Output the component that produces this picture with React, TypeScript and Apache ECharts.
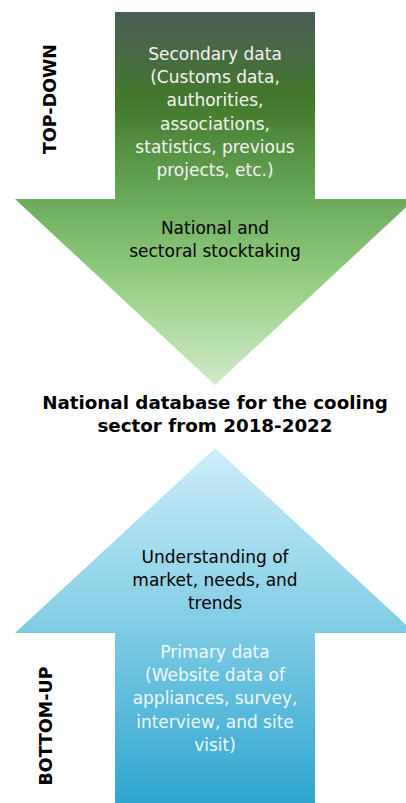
import React, { useEffect, useRef } from "react";
import * as echarts from "echarts";

const topArrowText = ["Secondary data", "(Customs data,", "authorities,", "associations,", "statistics, previous", "projects, etc.)"];
const topHeadText = ["National and", "sectoral stocktaking"];
const titleText = ["National database for the cooling", "sector from 2018-2022"];
const bottomHeadText = ["Understanding of", "market, needs, and", "trends"];
const bottomShaftText = ["Primary data", "(Website data of", "appliances, survey,", "interview, and site", "visit)"];
const sideLabels = ["TOP-DOWN", "BOTTOM-UP"];

const FONT = "DejaVu Sans";

export default function App() {
  const ref = useRef<HTMLDivElement>(null);
  useEffect(() => {
    document.body.style.margin = "0";
    const chart = echarts.init(ref.current!, null, { renderer: "svg" });
    const lh = 23.2;
    const lines = (arr: string[], y0: number, color: string, size: number, weight = "normal") =>
      arr.map((t, i) => ({
        type: "text",
        x: 215,
        y: y0 + i * lh,
        style: { text: t, fill: color, font: `${weight} ${size}px "${FONT}"`, textAlign: "center", textVerticalAlign: "middle" },
      }));
    chart.setOption({
      animation: false,
      backgroundColor: "#ffffff",
      graphic: [
        {
          type: "polygon",
          shape: { points: [[115, 12], [315, 12], [315, 199], [415, 199], [215, 385], [15, 199], [115, 199]] },
          style: {
            fill: new echarts.graphic.LinearGradient(0, 0, 0, 1, [
              { offset: 0, color: "#4b5d56" },
              { offset: 0.24, color: "#42792b" },
              { offset: 0.5, color: "#6aaa5b" },
              { offset: 0.7, color: "#90cb7d" },
              { offset: 1, color: "#d0ebc9" },
            ]),
          },
        },
        {
          type: "polygon",
          shape: { points: [[215, 448], [415, 633], [315, 633], [315, 803], [115, 803], [115, 633], [15, 633]] },
          style: {
            fill: new echarts.graphic.LinearGradient(0, 0, 0, 1, [
              { offset: 0, color: "#cceefa" },
              { offset: 0.45, color: "#89d0e7" },
              { offset: 0.72, color: "#5dbbdb" },
              { offset: 1, color: "#2ea6cf" },
            ]),
          },
        },
        ...lines(topArrowText, 54, "#f4f4f4", 17),
        ...lines(topHeadText, 228, "#000000", 17),
        ...lines(titleText, 402, "#000000", 18.3, "bold"),
        ...lines(bottomHeadText, 557, "#000000", 17),
        ...lines(bottomShaftText, 652, "#f2fafd", 17),
        {
          type: "text",
          x: 50,
          y: 99,
          rotation: Math.PI / 2,
          style: { text: sideLabels[0], fill: "#000", font: `bold 17.5px "${FONT}"`, textAlign: "center", textVerticalAlign: "middle" },
        },
        {
          type: "text",
          x: 46,
          y: 726,
          rotation: Math.PI / 2,
          style: { text: sideLabels[1], fill: "#000", font: `bold 17.5px "${FONT}"`, textAlign: "center", textVerticalAlign: "middle" },
        },
      ],
    });
    return () => chart.dispose();
  }, []);
  return <div ref={ref} style={{ width: 406, height: 803 }} />;
}
